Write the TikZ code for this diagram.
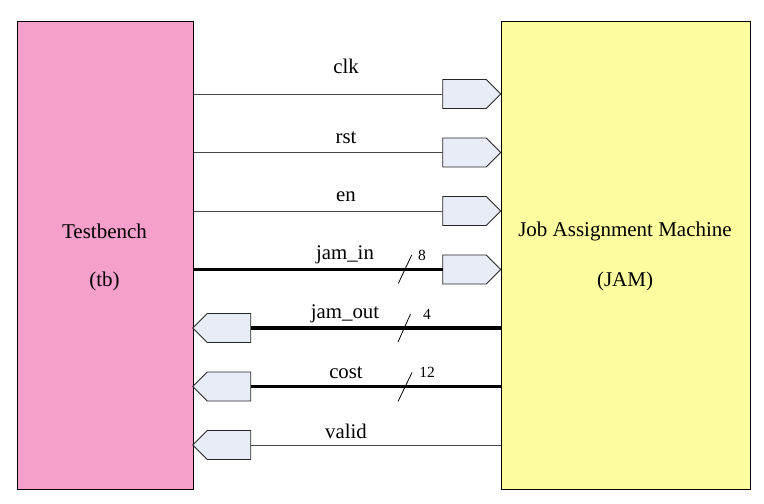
\documentclass[tikz,border=0pt]{standalone}
\usepackage{fontspec}
\setmainfont{Liberation Serif}
\usetikzlibrary{shapes.symbols,calc}
\definecolor{tbpink}{RGB}{245,159,203}
\definecolor{jamyellow}{RGB}{253,253,160}
\definecolor{portfill}{RGB}{232,236,246}
\definecolor{wire}{RGB}{70,70,70}
\tikzset{
  block/.style={draw=black, line width=0.9bp, inner sep=0pt, minimum width=#1},
  inport/.style={draw=black!85, line width=0.9bp, fill=portfill, signal, signal to=east, signal pointer angle=90, minimum width=58bp, minimum height=29bp, inner sep=0pt, outer sep=0pt},
  outport/.style={draw=black!85, line width=0.9bp, fill=portfill, signal, signal to=west, signal pointer angle=90, minimum width=58bp, minimum height=29bp, inner sep=0pt, outer sep=0pt},
  thinwire/.style={draw=wire, line width=0.9bp},
  buswire/.style={draw=black, line width=3.3bp},
  slash/.style={draw=black, line width=0.8bp},
  sig/.style={font=\fontsize{20.8bp}{24bp}\selectfont, inner sep=0pt},
  width/.style={font=\fontsize{15.5bp}{18bp}\selectfont, inner sep=0pt},
  title/.style={font=\fontsize{21bp}{25bp}\selectfont, inner sep=0pt}
}
\begin{document}
\begin{tikzpicture}[x=1bp,y=-1bp]
\useasboundingbox (0,0) rectangle (764,504);
% blocks
\node[block=176bp, minimum height=468bp, fill=tbpink, anchor=north west] (tb) at (16.7,20.7) {};
\node[block=249bp, minimum height=468bp, fill=jamyellow, anchor=north west] (jam) at (500.7,20.7) {};
\node[title] (tbname) at (104.5,231) {Testbench};
\node[title] (tbabbr) at (104.5,281) {(tb)};
\node[title] (jamname) at (625,231) {Job Assignment Machine};
\node[title] (jamabbr) at (625,281) {(JAM)};
% input ports on JAM
\node[inport, anchor=east] (pclk) at (500.7,94) {};
\node[inport, anchor=east] (prst) at (500.7,152.5) {};
\node[inport, anchor=east] (pen) at (500.7,211) {};
\node[inport, anchor=east] (pjin) at (500.7,269.5) {};
% output ports on tb
\node[outport, anchor=west] (pjout) at (192.7,328) {};
\node[outport, anchor=west] (pcost) at (192.7,386.5) {};
\node[outport, anchor=west] (pvalid) at (192.7,445) {};
% wires
\draw[thinwire] (tb.east |- pclk) -- (pclk.west);
\draw[thinwire] (tb.east |- prst) -- (prst.west);
\draw[thinwire] (tb.east |- pen) -- (pen.west);
\draw[buswire] (tb.east |- pjin) -- (pjin.west);
\draw[buswire] (jam.west |- pjout) -- (pjout.east);
\draw[buswire] ($(jam.west |- pcost)+(1.5,0)$) -- (pcost.east);
\draw[thinwire] (jam.west |- pvalid) -- (pvalid.east);
% labels
\node[sig] (lclk) at (346,66) {clk};
\node[sig] (lrst) at (346,138) {rst};
\node[sig] (len) at (346,197) {en};
\node[sig] (ljin) at (345,255) {jam\_in};
\node[sig] (ljout) at (345,314) {jam\_out};
\node[sig] (lcost) at (346,373) {cost};
\node[sig] (lvalid) at (346,431) {valid};
% bus widths
\draw[slash] (398.3,283.5) -- (411.7,255);
\node[width] (w8) at (422,255) {8};
\draw[slash] (398,342) -- (410.5,314);
\node[width] (w4) at (427,314) {4};
\draw[slash] (398,401.5) -- (412,372.5);
\node[width] (w12) at (427,372) {12};
\end{tikzpicture}
\end{document}
